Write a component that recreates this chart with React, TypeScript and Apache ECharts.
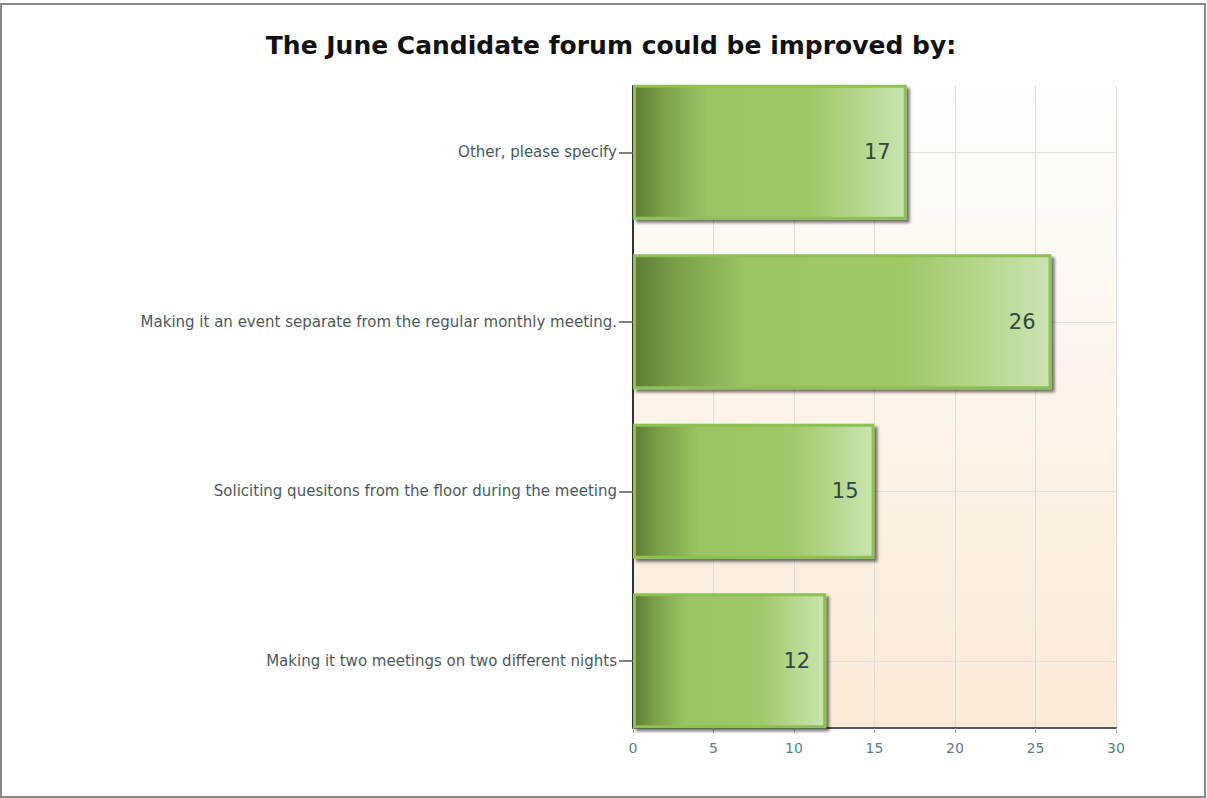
import React, { useEffect, useRef } from "react";
import * as echarts from "echarts";

const categories = [
  "Other, please specify",
  "Making it an event separate from the regular monthly meeting.",
  "Soliciting quesitons from the floor during the meeting",
  "Making it two meetings on two different nights",
];
const values = [17, 26, 15, 12];
const xTicks = { min: 0, max: 30, interval: 5 };
const titleText = "The June Candidate forum could be improved by:";

const FONT = "'DejaVu Sans', Verdana, sans-serif";

export default function App() {
  const ref = useRef<HTMLDivElement>(null);
  useEffect(() => {
    if (!ref.current) return;
    const chart = echarts.init(ref.current, undefined, { renderer: "svg" });
    chart.setOption({
      animation: false,
      backgroundColor: "#ffffff",
      textStyle: { fontFamily: FONT },
      title: {
        text: titleText,
        left: 606,
        textAlign: "center",
        top: 28,
        textStyle: { fontSize: 25, fontWeight: "bold", color: "#111111", fontFamily: FONT },
      },
      grid: [
        { left: 633, right: 91, top: 67.5, bottom: 52.5, containLabel: false },
        {
          left: 633,
          right: 91,
          top: 86,
          bottom: 70,
          show: true,
          borderWidth: 0,
          backgroundColor: {
            type: "linear",
            x: 0,
            y: 0,
            x2: 0,
            y2: 1,
            colorStops: [
              { offset: 0, color: "#fffefc" },
              { offset: 1, color: "#fbead7" },
            ],
          },
          z: 0,
        },
      ],
      xAxis: [
        { type: "value", gridIndex: 0, min: xTicks.min, max: xTicks.max, interval: xTicks.interval, show: false },
        {
          type: "value",
          gridIndex: 1,
          min: xTicks.min,
          max: xTicks.max,
          interval: xTicks.interval,
          axisLine: { show: true, lineStyle: { color: "#555555", width: 2 } },
          axisTick: { show: true, length: 5, lineStyle: { color: "#aaaaaa" } },
          axisLabel: { color: "#5f7a8a", fontSize: 14, margin: 13, fontFamily: FONT },
          splitLine: { show: true, lineStyle: { color: "#dedede", width: 1 } },
        },
      ],
      yAxis: [
        {
          type: "category",
          gridIndex: 0,
          inverse: true,
          data: categories,
          axisLine: { show: false },
          axisTick: { show: true, alignWithLabel: true, length: 14, lineStyle: { color: "#555555", width: 1.5 } },
          axisLabel: { color: "#4a5a5c", fontSize: 15, margin: 16, fontFamily: FONT },
          splitLine: { show: true, alignWithLabel: true, lineStyle: { color: "#e2e2e2", width: 1 } },
        },
        {
          type: "value",
          gridIndex: 1,
          min: 0,
          max: 1,
          axisLine: { show: true, lineStyle: { color: "#333333", width: 2 } },
          axisTick: { show: false },
          axisLabel: { show: false },
          splitLine: { show: false },
        },
      ],
      series: [
        {
          type: "bar",
          xAxisIndex: 0,
          yAxisIndex: 0,
          data: values,
          barCategoryGap: "20.5%",
          z: 3,
          itemStyle: {
            color: {
              type: "linear",
              x: 0,
              y: 0,
              x2: 1,
              y2: 0,
              colorStops: [
                { offset: 0, color: "#5e7c36" },
                { offset: 0.1, color: "#7a9f48" },
                { offset: 0.27, color: "#9bc562" },
                { offset: 0.65, color: "#9fc866" },
                { offset: 1, color: "#cbe4b0" },
              ],
            },
            borderColor: "#8cc155",
            borderWidth: 3,
            shadowColor: "rgba(0,0,0,0.55)",
            shadowBlur: 3,
            shadowOffsetX: 3,
            shadowOffsetY: 3,
          },
          label: {
            show: true,
            position: "insideRight",
            distance: 16,
            color: "#2f4848",
            fontSize: 21,
            fontFamily: FONT,
          },
        },
      ],
    });
    return () => chart.dispose();
  }, []);
  return (
    <div style={{ position: "fixed", left: 0, top: 0, width: 1207, height: 798 }}>
      <div ref={ref} style={{ position: "absolute", left: 0, top: 0, width: 1207, height: 798 }} />
      <div
        style={{
          position: "absolute",
          left: 0,
          top: 3,
          width: 1206,
          height: 795,
          border: "2px solid #888888",
          boxSizing: "border-box",
          pointerEvents: "none",
        }}
      />
    </div>
  );
}
